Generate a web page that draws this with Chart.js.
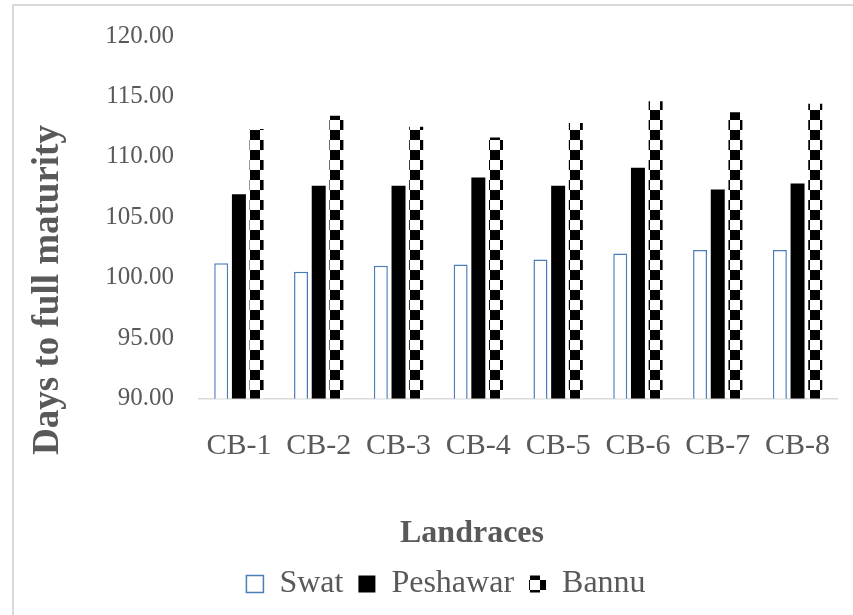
<!DOCTYPE html>
<html>
<head>
<meta charset="utf-8">
<script src="https://cdn.jsdelivr.net/npm/chart.js@4.4.1/dist/chart.umd.min.js"></script>
<style>
  body { margin: 0; background: #fff; overflow: hidden; }
  #frame { position: absolute; left: 12px; top: 4px; width: 900px; height: 700px;
           border-left: 2px solid #d9d9d9; border-top: 2px solid #d9d9d9; }
  #chart { position: absolute; left: 0; top: 0; }
</style>
</head>
<body>
<div id="frame"></div>
<canvas id="chart" width="853" height="615"></canvas>
<script>
const categories = ['CB-1', 'CB-2', 'CB-3', 'CB-4', 'CB-5', 'CB-6', 'CB-7', 'CB-8'];
const swat = [101.2, 100.5, 101.0, 101.1, 101.5, 102.0, 102.3, 102.3];
const peshawar = [106.9, 107.6, 107.6, 108.3, 107.6, 109.1, 107.3, 107.8];
const bannu = [112.3, 113.4, 112.5, 111.6, 112.8, 114.6, 113.7, 114.4];

// checkerboard fill like the Excel pattern
function makePattern() {
    let c = document.createElement('canvas');
    c.width = 20;
    c.height = 20;
    let g = c.getContext('2d');
    g.fillStyle = '#fff';
    g.fillRect(0, 0, 20, 20);
    g.fillStyle = '#000';
    g.fillRect(0, 0, 10, 10);
    g.fillRect(10, 10, 10, 10);
    return g.createPattern(c, 'repeat');
}

let serif = "'Liberation Serif', 'Times New Roman', serif";

// axis titles sit off-centre in the original, so draw them here
const axisTitles = {
    id: 'axisTitles',
    afterDraw(chart) {
        let c = chart.ctx;
        c.save();
        c.fillStyle = '#595959';
        c.textAlign = 'center';
        c.textBaseline = 'middle';
        c.font = 'bold 32px ' + serif;
        c.fillText('Landraces', 472, chart.scales.x.bottom - 19);
        c.translate(48, 290);
        c.rotate(-Math.PI / 2);
        c.font = 'bold 37px ' + serif;
        c.fillText('Days to full maturity', 0, 0);
        c.restore();
    }
};

let ctx = document.getElementById('chart').getContext('2d');
let myChart = new Chart(ctx, {
    type: 'bar',
    data: {
        labels: categories,
        datasets: [
            {
                label: 'Swat',
                data: swat,
                backgroundColor: '#ffffff',
                borderColor: '#4a7ebb',
                borderWidth: 1.5,
            }, {
                label: 'Peshawar',
                data: peshawar,
                backgroundColor: '#000000',
                borderWidth: 0,
            }, {
                label: 'Bannu',
                data: bannu,
                backgroundColor: makePattern(),
                borderColor: '#000',
                borderWidth: 0,
            }
        ]
    },
    plugins: [axisTitles],
    options: {
        responsive: false,
        animation: false,
        categoryPercentage: 0.665,
        barPercentage: 0.79,
        layout: { padding: { left: 54, right: 15, top: 36, bottom: 5 } },
        plugins: {
            tooltip: { enabled: false },
            legend: {
                position: 'bottom',
                labels: {
                    color: '#595959',
                    font: { family: serif, size: 32 },
                    boxWidth: 17,
                    boxHeight: 17,
                    padding: 15,
                }
            }
        },
        scales: {
            x: {
                grid: { display: false },
                border: { color: '#d9d9d9', width: 1.5 },
                ticks: { color: '#595959', font: { family: serif, size: 30 }, padding: 22, maxRotation: 0 },
                title: {
                    display: true,
                    text: 'Landraces',
                    color: 'rgba(0,0,0,0)',
                    font: { family: serif, size: 32, weight: 'bold' },
                    padding: { top: 28, bottom: 0 }
                }
            },
            y: {
                min: 90,
                max: 120,
                grid: { display: false },
                border: { display: false },
                afterFit: function (scale) { scale.width = 145; },
                ticks: {
                    stepSize: 5,
                    color: '#595959',
                    font: { family: serif, size: 25 },
                    padding: 17,
                    callback: function (v) { return v.toFixed(2); }
                }
            }
        }
    }
});
</script>
</body>
</html>
